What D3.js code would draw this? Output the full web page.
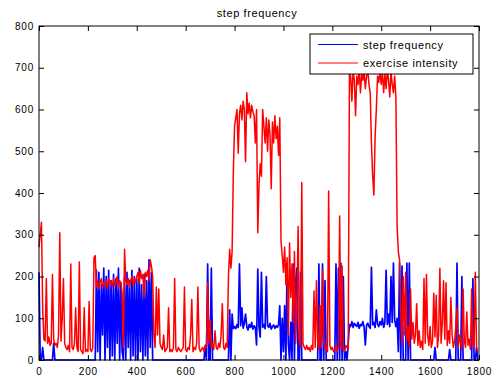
<!DOCTYPE html>
<html>
<head>
<meta charset="utf-8">
<script src="https://cdn.jsdelivr.net/npm/d3@7"></script>
<style>
  body { margin: 0; background: #fff; }
  svg text { font-family: "Liberation Sans", Arial, sans-serif; fill: #000; }
</style>
</head>
<body>
<svg id="chart" width="496" height="380"></svg>
<script>
// samples every 5 units
const STEP = 5;

// step frequency (blue)
const stepFrequency = [
  210, 0, 0, 30, 0, 0, 0, 0, 0, 0, 0, 0, 40, 0, 0, 0, 0, 0, 0, 0,
  0, 0, 0, 0, 0, 0, 0, 0, 0, 0, 0, 0, 0, 0, 0, 0, 0, 0, 0, 0,
  0, 0, 0, 0, 0, 0, 0, 215, 20, 210, 0, 180, 60, 220, 0, 200, 30, 215, 0, 190,
  10, 205, 0, 195, 40, 220, 0, 185, 20, 0, 200, 0, 210, 30, 190, 0, 215, 10, 200, 0,
  195, 0, 220, 20, 180, 0, 205, 10, 190, 0, 240, 30, 210, 0, 0, 0, 0, 0, 0, 0,
  0, 0, 0, 0, 0, 0, 0, 0, 0, 0, 0, 0, 0, 0, 0, 0, 0, 0, 0, 0,
  0, 0, 0, 0, 0, 0, 0, 0, 0, 0, 0, 0, 0, 0, 0, 0, 35, 0, 230, 0,
  0, 220, 0, 0, 0, 0, 0, 0, 0, 0, 0, 0, 0, 0, 0, 0, 120, 0, 110, 75,
  80, 75, 85, 78, 230, 82, 125, 76, 88, 110, 80, 72, 85, 78, 90, 74, 82, 78, 36, 218,
  80, 55, 210, 78, 85, 75, 200, 82, 78, 88, 74, 80, 84, 76, 82, 78, 85, 130, 0, 100,
  20, 130, 0, 232, 40, 0, 90, 0, 230, 0, 190, 220, 0, 0, 210, 0, 0, 0, 0, 0,
  0, 0, 0, 0, 0, 0, 0, 0, 0, 230, 0, 0, 230, 0, 190, 0, 0, 0, 0, 0,
  0, 0, 0, 230, 0, 220, 0, 232, 0, 200, 0, 20, 0, 40, 85, 80, 92, 78, 88, 84,
  80, 90, 76, 85, 82, 92, 78, 36, 84, 88, 80, 76, 222, 84, 90, 78, 120, 86, 80, 92,
  84, 100, 78, 90, 215, 85, 110, 80, 200, 90, 232, 95, 80, 100, 20, 232, 0, 225, 0, 0,
  0, 232, 0, 232, 0, 0, 0, 0, 0, 0, 0, 0, 0, 0, 0, 0, 0, 0, 0, 0,
  0, 0, 0, 0, 30, 0, 0, 0, 0, 0, 0, 0, 0, 0, 0, 0, 25, 0, 0, 0,
  0, 0, 232, 0, 0, 0, 200, 0, 0, 0, 0, 0, 0, 0, 0, 195, 0, 0, 30, 0
];

// exercise intensity (red)
const exerciseIntensity = [
  270, 300, 330, 120, 50, 45, 195, 40, 55, 35, 40, 205, 50, 35, 40, 30, 60, 305, 45, 100,
  195, 40, 30, 25, 35, 20, 230, 30, 25, 40, 125, 30, 20, 235, 25, 20, 15, 125, 20, 25,
  20, 140, 25, 20, 30, 245, 250, 175, 190, 170, 185, 195, 175, 185, 180, 190, 170, 195, 185, 190,
  175, 195, 180, 185, 200, 170, 190, 185, 160, 30, 265, 190, 180, 195, 175, 190, 200, 180, 195, 185,
  200, 210, 185, 215, 195, 205, 150, 210, 200, 215, 190, 240, 225, 200, 60, 30, 175, 60, 170, 40,
  30, 25, 60, 20, 25, 30, 125, 20, 25, 20, 30, 195, 25, 20, 30, 25, 20, 25, 30, 175,
  25, 20, 30, 25, 60, 145, 20, 30, 25, 40, 175, 30, 20, 25, 30, 20, 35, 30, 185, 40,
  95, 30, 40, 25, 70, 30, 25, 40, 30, 60, 135, 30, 25, 40, 30, 200, 265, 220, 260, 450,
  560, 580, 600, 495, 590, 610, 575, 620, 600, 475, 640, 590, 615, 580, 610, 595, 585, 520, 600, 305,
  420, 470, 440, 600, 560, 520, 580, 500, 575, 540, 410, 570, 520, 585, 530, 560, 490, 580, 285, 250,
  210, 270, 180, 245, 60, 280, 150, 230, 90, 260, 40, 120, 320, 45, 30, 425, 40, 30, 25, 35,
  25, 30, 20, 35, 25, 165, 30, 190, 40, 25, 130, 30, 215, 45, 25, 30, 20, 405, 35, 25,
  30, 20, 25, 35, 20, 30, 345, 30, 225, 25, 20, 35, 30, 25, 690, 680, 620, 695, 670, 585,
  680, 660, 695, 640, 685, 670, 690, 650, 680, 695, 660, 640, 520, 440, 395, 535, 600, 680, 665, 690,
  660, 690, 640, 685, 650, 695, 670, 630, 690, 660, 640, 680, 630, 320, 260, 240, 110, 40, 200, 60,
  210, 45, 80, 30, 170, 50, 90, 40, 60, 135, 35, 70, 30, 45, 25, 195, 40, 205, 60, 35,
  80, 30, 45, 160, 55, 155, 30, 60, 220, 40, 90, 190, 50, 185, 35, 70, 40, 150, 60, 30,
  45, 80, 125, 30, 60, 40, 25, 170, 45, 30, 115, 35, 50, 25, 170, 40, 30, 210, 30, 20
];

const xTicks = [0, 200, 400, 600, 800, 1000, 1200, 1400, 1600, 1800];
const yTicks = [0, 100, 200, 300, 400, 500, 600, 700, 800];
const seriesNames = ["step frequency", "exercise intensity"];
const seriesColors = ["#0000ff", "#ff0000"];

const margin = { left: 39, top: 26, right: 17, bottom: 20 };
const width = 496, height = 380;
const svg = d3.select("#chart");

const x = d3.scaleLinear().domain([0, 1800]).range([margin.left, width - margin.right]);
const y = d3.scaleLinear().domain([0, 800]).range([height - margin.bottom, margin.top]);

// title
svg.append("text")
  .attr("x", (x.range()[0] + x.range()[1]) / 2 - 2)
  .attr("y", 17)
  .attr("text-anchor", "middle")
  .attr("style", "font-size: 11px; letter-spacing: 0.6px;")
  .text("step frequency");

// lines
const plot = svg.append("g");
const line = d3.line().x((d, i) => x(i * STEP)).y(d => y(d));
[stepFrequency, exerciseIntensity].forEach((vals, k) => {
  plot.append("path")
    .datum(vals)
    .attr("fill", "none")
    .attr("stroke", seriesColors[k])
    .attr("stroke-width", k === 0 ? 1.7 : 1.5)
    .attr("stroke-linejoin", "round")
    .attr("d", line);
});

// axes, ticks inside on all four sides
const axStyle = g => {
  g.select(".domain").remove();
  g.selectAll("line").attr("stroke", "#000");
  g.selectAll("text").attr("style", "font-size: 10px; letter-spacing: 0.8px;").attr("font-family", null);
};
const fmt = d3.format("d");
svg.append("g").attr("transform", `translate(0,${y(0)})`)
  .call(d3.axisBottom(x).tickValues(xTicks).tickSize(-5).tickPadding(8).tickFormat(fmt)).call(axStyle);
svg.append("g").attr("transform", `translate(0,${y(800)})`)
  .call(d3.axisTop(x).tickValues(xTicks).tickSize(-5).tickFormat("")).call(axStyle);
svg.append("g").attr("transform", `translate(${x(0)},0)`)
  .call(d3.axisLeft(y).tickValues(yTicks).tickSize(-5).tickPadding(5).tickFormat(fmt)).call(axStyle);
svg.append("g").attr("transform", `translate(${x(1800)},0)`)
  .call(d3.axisRight(y).tickValues(yTicks).tickSize(-5).tickFormat("")).call(axStyle);

svg.append("rect")
  .attr("x", x(0)).attr("y", y(800))
  .attr("width", x(1800) - x(0)).attr("height", y(0) - y(800))
  .attr("fill", "none").attr("stroke", "#000").attr("stroke-width", 1);

// legend
const lg = svg.append("g").attr("transform", "translate(310,34)");
lg.append("rect").attr("width", 163).attr("height", 40)
  .attr("fill", "#fff").attr("stroke", "#000").attr("stroke-width", 1);
seriesNames.forEach((name, i) => {
  const ly = 10.5 + i * 18.5;
  lg.append("line").attr("x1", 8).attr("x2", 48).attr("y1", ly).attr("y2", ly)
    .attr("stroke", seriesColors[i]).attr("stroke-width", 1);
  lg.append("text").attr("x", 53).attr("y", ly + 4)
    .attr("style", "font-size: 11px; letter-spacing: 0.6px;")
    .text(name);
});
</script>
</body>
</html>
